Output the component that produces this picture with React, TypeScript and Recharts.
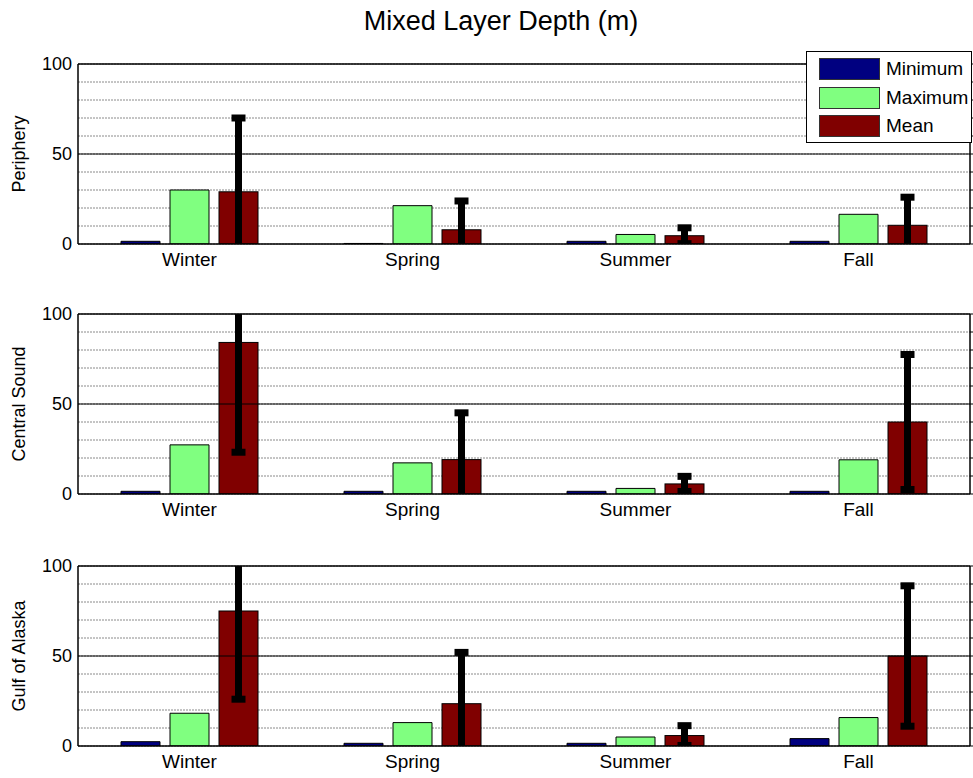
import { BarChart, Bar, XAxis, YAxis, CartesianGrid, ReferenceLine, Legend } from "recharts";

const seasons = ["Winter", "Spring", "Summer", "Fall"];

const peripheryMin = [1.5, 0.3, 1.5, 1.5];
const peripheryMax = [30, 21.3, 5.3, 16.5];
const peripheryMean = [29, 7.9, 4.6, 10.4];
const peripheryStd = [41, 16, 4.4, 15.6];

const centralMin = [1.5, 1.5, 1.5, 1.5];
const centralMax = [27.3, 17.3, 3.1, 19];
const centralMean = [84.2, 19.1, 5.6, 40];
const centralStd = [61, 26, 4.2, 37.5];

const gulfMin = [2.4, 1.5, 1.5, 4.1];
const gulfMax = [18.2, 13, 5, 15.8];
const gulfMean = [75, 23.5, 5.8, 50];
const gulfStd = [49, 28.5, 5.5, 39];

const gridTicks = [0, 10, 20, 30, 40, 50, 60, 70, 80, 90, 100];
const labelTicks = [0, 50, 100];
const legendOrder = ["Minimum", "Maximum", "Mean"];

const font = "Arial, 'Liberation Sans', Helvetica, sans-serif";
const minColor = "#000080";
const maxColor = "#80ff80";
const meanColor = "#800000";

const buildRows = (mins: number[], maxs: number[], means: number[], stds: number[]) =>
  seasons.map((season, i) => ({
    season,
    min: mins[i],
    max: maxs[i],
    mean: means[i],
    std: stds[i],
  }));

const panels = [
  { name: "Periphery", top: 50, rows: buildRows(peripheryMin, peripheryMax, peripheryMean, peripheryStd) },
  { name: "Central Sound", top: 300, rows: buildRows(centralMin, centralMax, centralMean, centralStd) },
  { name: "Gulf of Alaska", top: 552, rows: buildRows(gulfMin, gulfMax, gulfMean, gulfStd) },
];

// mean bar + std whisker, clipped to the plot area like the matlab figure
const MeanWithError = (props: any) => {
  const { x, y, width, height, value, payload, background } = props;
  const k = value ? height / value : 0;
  const cx = x + width / 2;
  const plotTop = background ? background.y : y - 1000;
  const plotBottom = background ? background.y + background.height : y + height;
  const hi = y - payload.std * k;
  const lo = y + payload.std * k;
  const lineTop = Math.max(hi, plotTop);
  const lineBottom = Math.min(lo, plotBottom + 2);
  return (
    <g>
      <rect x={x} y={y} width={width} height={height} fill={meanColor} stroke="#000" strokeWidth={1} />
      <line x1={cx} x2={cx} y1={lineTop} y2={lineBottom} stroke="#000" strokeWidth={7} />
      {hi >= plotTop && <line x1={cx - 7} x2={cx + 7} y1={hi} y2={hi} stroke="#000" strokeWidth={7} />}
      {lo <= plotBottom && <line x1={cx - 7} x2={cx + 7} y1={lo} y2={lo} stroke="#000" strokeWidth={7} />}
    </g>
  );
};

const NoLabel = () => <g />;

const LegendBox = ({ payload }: any) => {
  const items = [...(payload || [])].sort(
    (a: any, b: any) => legendOrder.indexOf(a.value) - legendOrder.indexOf(b.value)
  );
  return (
    <div
      style={{
        width: 164,
        height: 90,
        background: "#fff",
        border: "1px solid #000",
        fontFamily: font,
        fontSize: 19,
      }}
    >
      {items.map((p: any, i: number) => (
        <div key={i} style={{ display: "flex", alignItems: "center", height: 28.5, marginTop: i === 0 ? 3 : 0 }}>
          <div
            style={{
              width: 59,
              height: 20,
              marginLeft: 12,
              marginRight: 6,
              background: p.color,
              border: "1px solid #333",
            }}
          />
          <span style={{ color: "#000" }}>{p.value}</span>
        </div>
      ))}
    </div>
  );
};

const Panel = ({ name, rows, showLegend }: { name: string; rows: any[]; showLegend: boolean }) => (
  <BarChart
    width={973}
    height={225}
    data={rows}
    margin={{ top: 14, right: 0, bottom: 0, left: 0 }}
    barSize={39}
    barGap={10}
  >
    <CartesianGrid vertical={false} horizontalValues={gridTicks} stroke="#8a8a8a" strokeDasharray="2 1" />
    <XAxis
      dataKey="season"
      height={31}
      axisLine={{ stroke: "#000", strokeWidth: 1.5 }}
      tickLine={false}
      tickSize={0}
      tickMargin={9}
      tick={{ fill: "#000", fontSize: 19, fontFamily: font }}
    />
    <YAxis
      yAxisId="l"
      width={78}
      domain={[0, 100]}
      ticks={labelTicks}
      allowDataOverflow
      axisLine={{ stroke: "#000", strokeWidth: 1.5 }}
      tickLine={false}
      tickSize={0}
      tickMargin={6}
      tick={{ fill: "#000", fontSize: 18, fontFamily: font }}
      label={{
        content: ({ viewBox }: any) => (
          <text
            x={19}
            y={viewBox.y + viewBox.height / 2}
            transform={`rotate(-90, 19, ${viewBox.y + viewBox.height / 2})`}
            textAnchor="middle"
            dominantBaseline="central"
            fontSize={18}
            fontFamily={font}
            fill="#000"
          >
            {name}
          </text>
        ),
      }}
    />
    <YAxis
      orientation="right"
      width={3}
      domain={[0, 100]}
      ticks={gridTicks}
      interval={0}
      allowDataOverflow
      tick={<NoLabel />}
      tickSize={3}
      axisLine={{ stroke: "#000", strokeWidth: 1.5 }}
      tickLine={{ stroke: "#000" }}
    />
    <ReferenceLine y={50} stroke="#000" strokeWidth={1.2} />
    <ReferenceLine y={100} stroke="#000" strokeWidth={1.5} />
    {showLegend && (
      <Legend
        layout="vertical"
        align="center"
        verticalAlign="middle"
        content={<LegendBox />}
        wrapperStyle={{ left: 806, top: 1, width: 166, height: 92 }}
      />
    )}
    <Bar dataKey="min" name="Minimum" fill={minColor} stroke="#000" strokeWidth={1} isAnimationActive={false} />
    <Bar dataKey="max" name="Maximum" fill={maxColor} stroke="#000" strokeWidth={1} isAnimationActive={false} />
    <Bar
      dataKey="mean"
      name="Mean"
      fill={meanColor}
      stroke="#000"
      strokeWidth={1}
      shape={<MeanWithError />}
      isAnimationActive={false}
    />
  </BarChart>
);

export default function App() {
  return (
    <div style={{ position: "absolute", left: 0, top: 0, width: 973, height: 778, background: "#fff", overflow: "hidden" }}>
      <div
        style={{
          position: "absolute",
          left: 0,
          top: 6,
          width: 1002,
          textAlign: "center",
          fontFamily: font,
          fontSize: 27,
          color: "#000",
        }}
      >
        Mixed Layer Depth (m)
      </div>
      {panels.map((p, i) => (
        <div key={p.name} style={{ position: "absolute", left: 0, top: p.top }}>
          <Panel name={p.name} rows={p.rows} showLegend={i === 0} />
        </div>
      ))}
    </div>
  );
}
